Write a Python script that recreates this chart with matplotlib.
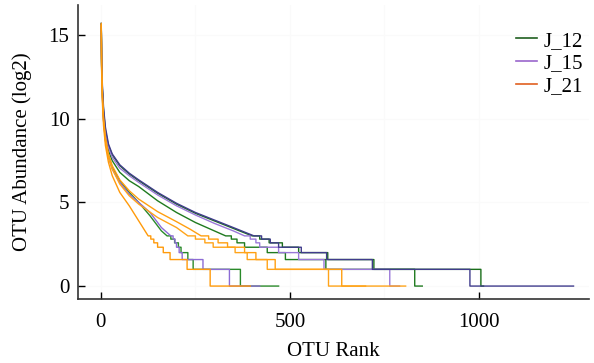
import numpy as np
import matplotlib
matplotlib.use("Agg")
import matplotlib.pyplot as plt
from matplotlib.lines import Line2D

plt.rcParams['font.family'] = ['Liberation Serif', 'DejaVu Serif']

# ---- data ----
groups = ["J_12", "J_15", "J_21"]
legend_colors = ["#1f5f1f", "#9966cc", "#e06020"]

common_ranks = [1, 2, 4, 7, 12, 20, 30, 50, 75, 100, 150, 200, 250, 300, 350]
tail_counts = [7, 6, 5, 4, 3, 2, 1]

# J_15 sample A (largest)
a_rank = common_ranks + [405]
a_log2 = [15.7, 13.6, 12.0, 10.7, 9.5, 8.5, 7.9, 7.25, 6.75, 6.35, 5.6, 4.95, 4.4, 3.95, 3.5, 3.0]
a_tail = [425, 448, 470, 530, 597, 718, 976]
a_end = 1250
# J_12 sample A
b_rank = common_ranks + [400]
b_log2 = [15.7, 13.4, 11.8, 10.5, 9.3, 8.4, 7.85, 7.2, 6.7, 6.3, 5.55, 4.9, 4.35, 3.9, 3.45, 3.0]
b_tail = [420, 445, 480, 523, 600, 722, 1005]
b_end = 1012
# J_15 sample B
c_rank = common_ranks + [380]
c_log2 = [15.6, 13.3, 11.7, 10.4, 9.2, 8.3, 7.7, 7.05, 6.6, 6.2, 5.45, 4.8, 4.25, 3.75, 3.3, 3.0]
c_tail = [395, 410, 420, 470, 523, 590, 764]
c_end = 790
# J_12 sample B
d_rank = [1, 2, 4, 7, 12, 20, 30, 50, 75, 100, 150, 200, 250, 300, 330]
d_log2 = [15.6, 13.2, 11.6, 10.2, 9.0, 8.1, 7.5, 6.8, 6.3, 5.95, 5.1, 4.4, 3.8, 3.3, 3.0]
d_tail = [345, 360, 380, 440, 488, 595, 830]
d_end = 850
# J_21 sample A
e_rank = [1, 2, 4, 7, 12, 20, 30, 50, 75, 100, 150, 200, 236, 265]
e_log2 = [15.7, 13.2, 11.5, 10.1, 8.9, 7.9, 7.2, 6.35, 5.7, 5.2, 4.45, 3.85, 3.4, 3.0]
e_tail = [285, 310, 335, 380, 410, 461, 637]
e_end = 700
# J_21 sample B
f_rank = [1, 2, 4, 7, 12, 20, 30, 50, 75, 100, 150, 200, 230]
f_log2 = [15.6, 13.0, 11.3, 9.9, 8.7, 7.7, 7.0, 6.1, 5.4, 4.9, 4.1, 3.5, 3.0]
f_tail = [250, 275, 297, 355, 387, 440, 602]
f_end = 806
# J_21 sample C (shortest)
g_rank = [1, 2, 4, 7, 12, 20, 30, 50, 75, 100, 125]
g_log2 = [15.6, 12.8, 11.0, 9.6, 8.4, 7.4, 6.6, 5.6, 4.8, 3.9, 3.0]
g_tail = [132, 140, 150, 165, 183, 228, 289]
g_end = 395
# J_15 sample C
h_rank = [1, 2, 4, 7, 12, 20, 30, 50, 75, 100, 130, 160, 185]
h_log2 = [15.6, 13.0, 11.3, 9.9, 8.7, 7.7, 7.0, 6.2, 5.5, 5.0, 4.4, 3.5, 3.0]
h_tail = [191, 196, 200, 207, 215, 270, 340]
h_end = 420
# J_12 sample C
i_rank = [1, 2, 4, 7, 12, 20, 30, 50, 75, 100, 130, 160, 175]
i_log2 = [15.6, 13.1, 11.4, 10.0, 8.8, 7.8, 7.1, 6.3, 5.6, 5.0, 4.2, 3.3, 3.0]
i_tail = [185, 195, 205, 212, 230, 244, 369]
i_end = 470

samples = [
    (i_rank, i_log2, i_tail, i_end, "#2a8a2a"),
    (d_rank, d_log2, d_tail, d_end, "#1f7a1f"),
    (b_rank, b_log2, b_tail, b_end, "#1a6e1a"),
    (h_rank, h_log2, h_tail, h_end, "#8c6cd4"),
    (c_rank, c_log2, c_tail, c_end, "#9a78d8"),
    (a_rank, a_log2, a_tail, a_end, "#403c8c"),
    (e_rank, e_log2, e_tail, e_end, "#ff9f10"),
    (f_rank, f_log2, f_tail, f_end, "#ffa41a"),
    (g_rank, g_log2, g_tail, g_end, "#ff9a0a"),
]


def build(ranks, vals, tail, end):
    xs = list(ranks)
    ys = list(vals)
    for cnt, r in zip(tail_counts, tail):
        xs += [r, r]
        ys += [np.log2(cnt + 1), np.log2(cnt)]
    xs.append(end)
    ys.append(0.0)
    return xs, ys


fig = plt.figure(figsize=(5.94, 3.63), dpi=100)
ax = fig.add_axes([0.131, 0.176, 0.86, 0.81])

for r, v, t, e, col in samples:
    xs, ys = build(r, v, t, e)
    ax.plot(xs, ys, color=col, lw=1.0)

ax.set_xlim(-61, 1290)
ax.set_ylim(-0.78, 16.8)
ax.set_xticks([0, 500, 1000])
ax.set_yticks([0, 5, 10, 15])
ax.set_xticks([250, 750], minor=True)
ax.grid(True, which='both', color='#fafafa', lw=0.8)
ax.set_axisbelow(True)
ax.tick_params(direction='in', length=5, width=1, labelsize=15, which='major')
ax.tick_params(axis='x', pad=10)
ax.tick_params(axis='y', pad=6)
ax.tick_params(which='minor', length=0)
for s in ['top', 'right']:
    ax.spines[s].set_visible(False)
for s in ['left', 'bottom']:
    ax.spines[s].set_color('#333333')
    ax.spines[s].set_linewidth(1.2)

ax.set_xlabel("OTU Rank", fontsize=15)
ax.xaxis.set_label_coords(0.5, -43 / (0.81 * 363))
ax.set_ylabel("OTU Abundance (log2)", fontsize=15, labelpad=12)

handles = [Line2D([0], [0], color=c, lw=1.2) for c in legend_colors]
leg = ax.legend(handles, groups, loc='upper right', bbox_to_anchor=(1.025, 0.975),
                frameon=False, fontsize=15, handlelength=1.0, handletextpad=0.3,
                labelspacing=0.15)

fig.savefig("out.png", dpi=100)
